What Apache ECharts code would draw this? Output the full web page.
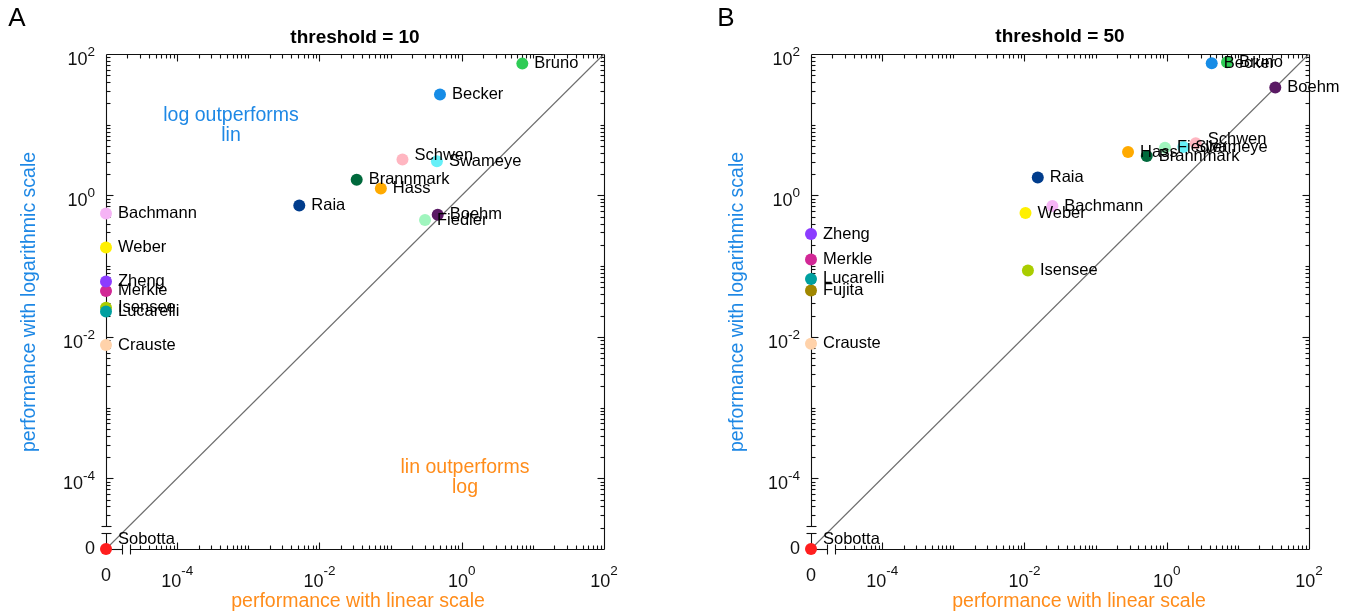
<!DOCTYPE html>
<html><head><meta charset="utf-8">
<script src="https://cdn.jsdelivr.net/npm/echarts@6/dist/echarts.min.js"></script>
<style>html,body{margin:0;padding:0;background:#fff}#c{width:1360px;height:616px}</style>
</head><body><div id="c"></div><script>
// ---------------- data ----------------
const namesA = ['Bachmann','Becker','Boehm','Brannmark','Bruno','Crauste','Fiedler','Hass','Isensee','Lucarelli','Merkle','Raia','Schwen','Sobotta','Swameye','Weber','Zheng'];
const linA   = [0, 0.495, 0.46, 0.0334, 7.11, 0, 0.305, 0.073, 0, 0, 0, 0.00521, 0.147, 0, 0.448, 0, 0];
const logA   = [0.556, 26.8, 0.534, 1.66, 73.1, 0.00767, 0.448, 1.25, 0.0259, 0.0228, 0.0446, 0.719, 3.21, 0, 3.05, 0.184, 0.0608];

const namesB = ['Bachmann','Becker','Boehm','Brannmark','Bruno','Crauste','Fiedler','Fujita','Hass','Isensee','Lucarelli','Merkle','Raia','Schwen','Sobotta','Swameye','Weber','Zheng'];
const linB   = [0.0247, 4.29, 33.6, 0.524, 7.04, 0, 0.946, 0, 0.286, 0.0112, 0, 0, 0.0154, 2.56, 0, 1.71, 0.01035, 0];
const logB   = [0.709, 74.1, 33.5, 3.61, 76.5, 0.008, 4.74, 0.0454, 4.10, 0.0867, 0.066, 0.124, 1.79, 5.45, 0, 4.83, 0.564, 0.285];

const titles = ['threshold = 10', 'threshold = 50'];
const panelLetters = ['A', 'B'];
const xName = 'performance with linear scale';
const yName = 'performance with logarithmic scale';
const noteLog = 'log outperforms\nlin';
const noteLin = 'lin outperforms\nlog';

// ---------------- styles ----------------
const modelColors = {
  Bachmann:'#f5b4f5', Becker:'#168ce6', Boehm:'#5a1a64', Brannmark:'#00693c', Bruno:'#2ecc55',
  Crauste:'#ffd2aa', Fiedler:'#a0f5be', Fujita:'#a08700', Hass:'#ffaa00', Isensee:'#aacd00',
  Lucarelli:'#00a0a0', Merkle:'#d22896', Raia:'#003c8c', Schwen:'#ffb6c1', Sobotta:'#ff1e1e',
  Swameye:'#66f0f8', Weber:'#fff000', Zheng:'#8c3cff'
};
const labelOffsets = { Sobotta:[0,-10], Schwen:[0,-4] };
const AX_MIN = 1e-5, AX_MAX = 1e2;          // 0 is drawn at the AX_MIN position (broken axis)
const BREAK_LO = 1.66e-5, BREAK_HI = 2.14e-5;
const FONT = 'Liberation Sans, Arial, Helvetica, sans-serif';
const BLUE = '#1e88e5', ORANGE = '#ff8c1a', INK = '#111111';
const grids = [
  { left: 106, top: 54, width: 498, height: 495 },
  { left: 811, top: 54, width: 498, height: 495 }
];

const chart = echarts.init(document.getElementById('c'), null, { renderer: 'canvas' });

function tickFmt(v) {
  const e = Math.round(Math.log10(v));
  if (e === -5) return '{z|0}';
  if (e % 2 !== 0) return '';
  return '{b|10}{s|' + e + '}';
}

function frameItem(params, api) {
  const c = (x, y) => api.coord([x, y]);
  const snap = v => Math.round(v) + 0.5;
  const L = snap(c(AX_MIN, AX_MIN)[0]), B = snap(c(AX_MIN, AX_MIN)[1]);
  const R = snap(c(AX_MAX, AX_MAX)[0]), T = snap(c(AX_MAX, AX_MAX)[1]);
  const kids = [];
  const seg = (x1, y1, x2, y2) => kids.push({ type: 'line', shape: { x1, y1, x2, y2 }, style: { stroke: INK, lineWidth: 1.1 } });
  const xb1 = snap(c(BREAK_LO, AX_MIN)[0]), xb2 = snap(c(BREAK_HI, AX_MIN)[0]);
  const yb1 = snap(c(AX_MIN, BREAK_LO)[1]), yb2 = snap(c(AX_MIN, BREAK_HI)[1]);
  seg(L, T, R, T); seg(R, T, R, B);
  seg(L, B, xb1, B); seg(xb2, B, R, B);
  seg(xb1, B - 5, xb1, B + 5); seg(xb2, B - 5, xb2, B + 5);
  seg(L, B, L, yb1); seg(L, yb2, L, T);
  seg(L - 5, yb1, L + 5, yb1); seg(L - 5, yb2, L + 5, yb2);
  for (let e = -5; e <= 1; e++) {
    for (let m = 1; m <= 9; m++) {
      const v = m * Math.pow(10, e);
      if (m === 1 && e === -5) continue;
      const major = (m === 1 && e % 2 === 0);
      const len = major ? 7 : 4;
      const px = snap(c(v, AX_MIN)[0]), py = snap(c(AX_MIN, v)[1]);
      const inBreak = v > BREAK_LO && v < BREAK_HI;
      seg(px, T, px, T + len);
      seg(R, py, R - len, py);
      if (!inBreak) {
        seg(px, B, px, B - len);
        seg(L, py, L + len, py);
      }
    }
  }
  return { type: 'group', children: kids };
}

function buildPoints(names, lin, log) {
  return names.map((n, i) => {
    const item = {
      name: n,
      value: [lin[i] === 0 ? AX_MIN : lin[i], log[i] === 0 ? AX_MIN : log[i]],
      itemStyle: { color: modelColors[n], opacity: 1 }
    };
    if (labelOffsets[n]) item.label = { offset: labelOffsets[n] };
    return item;
  });
}

const xAxes = [], yAxes = [], series = [];
const sets = [[namesA, linA, logA], [namesB, linB, logB]];
sets.forEach((s, gi) => {
  xAxes.push({
    gridIndex: gi, type: 'log', logBase: 10, min: AX_MIN, max: AX_MAX, splitNumber: 7,
    axisLine: { show: false }, axisTick: { show: false }, splitLine: { show: false },
    axisLabel: {
      formatter: tickFmt, margin: 14, color: INK, fontFamily: FONT,
      showMinLabel: true, showMaxLabel: true, hideOverlap: false,
      rich: {
        z: { fontSize: 18, fontFamily: FONT, color: INK, padding: [4, 0, 0, 0] },
        b: { fontSize: 18, fontFamily: FONT, color: INK, padding: [10, 0, 0, 0] },
        s: { fontSize: 13.5, fontFamily: FONT, color: INK, verticalAlign: 'top', padding: [1, 0, 0, 0] }
      }
    }
  });
  yAxes.push({
    gridIndex: gi, type: 'log', logBase: 10, min: AX_MIN, max: AX_MAX, splitNumber: 7,
    axisLine: { show: false }, axisTick: { show: false }, splitLine: { show: false },
    axisLabel: {
      formatter: tickFmt, margin: 11, color: INK, fontFamily: FONT,
      showMinLabel: true, showMaxLabel: true, hideOverlap: false,
      rich: {
        z: { fontSize: 18, fontFamily: FONT, color: INK },
        b: { fontSize: 18, fontFamily: FONT, color: INK, padding: [12, 0, 0, 0] },
        s: { fontSize: 13.5, fontFamily: FONT, color: INK, verticalAlign: 'top', padding: [6, 0, 0, 0] }
      }
    }
  });
  series.push({
    type: 'custom', xAxisIndex: gi, yAxisIndex: gi, silent: true, clip: false,
    renderItem: frameItem, data: [[AX_MIN, AX_MIN]], z: 1
  });
  series.push({
    type: 'line', xAxisIndex: gi, yAxisIndex: gi, silent: true, symbol: 'none',
    data: [[AX_MIN, AX_MIN], [AX_MAX, AX_MAX]],
    lineStyle: { color: '#6e6e6e', width: 1.1 }, z: 2
  });
  series.push({
    type: 'scatter', xAxisIndex: gi, yAxisIndex: gi, symbol: 'circle', symbolSize: 12,
    data: buildPoints(s[0], s[1], s[2]), z: 3, clip: false,
    itemStyle: { opacity: 1 },
    label: {
      show: true, position: 'right', distance: 6, formatter: '{b}',
      fontSize: 16.5, fontFamily: FONT, color: '#000', opacity: 1
    }
  });
});

const txt = (x, y, text, font, color, extra) => Object.assign({
  type: 'text', x, y, silent: true,
  style: { text, font, fill: color, align: 'center', verticalAlign: 'middle', lineHeight: 20 }
}, extra || {});

const graphic = [
  txt(17, 19, panelLetters[0], '26px ' + FONT, '#000'),
  txt(726, 19, panelLetters[1], '26px ' + FONT, '#000'),
  txt(355, 38, titles[0], 'bold 19px ' + FONT, '#000'),
  txt(1060, 37, titles[1], 'bold 19px ' + FONT, '#000'),
  txt(30, 302, yName, '19.5px ' + FONT, BLUE, { rotation: Math.PI / 2 }),
  txt(738, 302, yName, '19.5px ' + FONT, BLUE, { rotation: Math.PI / 2 }),
  txt(358, 602, xName, '19.5px ' + FONT, ORANGE),
  txt(1079, 602, xName, '19.5px ' + FONT, ORANGE),
  txt(231, 126, noteLog, '19.5px ' + FONT, BLUE),
  txt(465, 478, noteLin, '19.5px ' + FONT, ORANGE)
];

chart.setOption({
  animation: false,
  backgroundColor: '#fff',
  grid: grids,
  xAxis: xAxes,
  yAxis: yAxes,
  series,
  graphic
});
</script></body></html>
